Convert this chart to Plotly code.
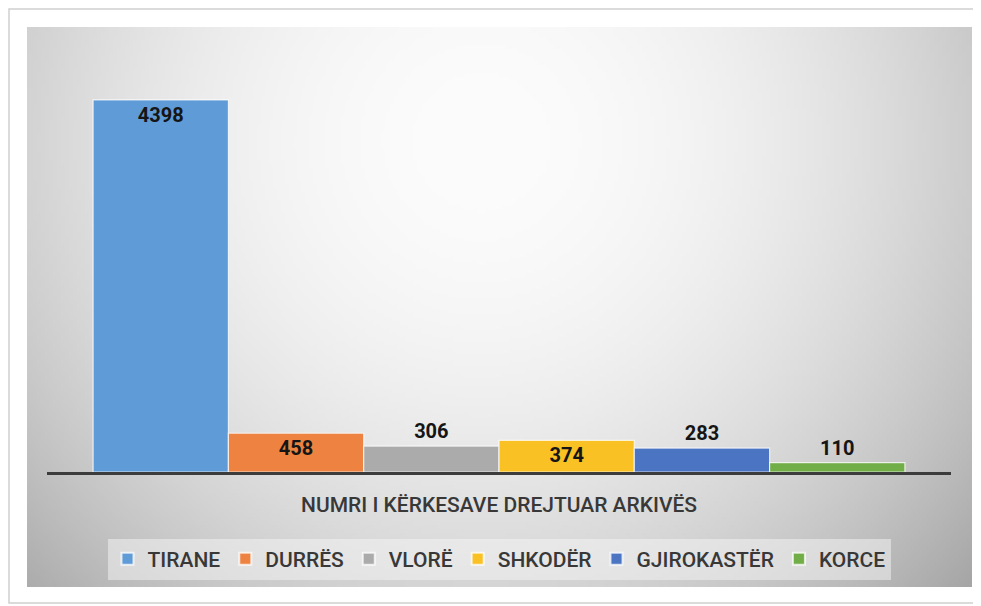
import base64
import struct
import zlib

import numpy as np
import plotly.graph_objects as go

# ---------------- data ----------------
category = ["NUMRI I KËRKESAVE DREJTUAR ARKIVËS"]
cities = ["TIRANE", "DURRËS", "VLORË", "SHKODËR", "GJIROKASTËR", "KORCE"]
requests = [4398, 458, 306, 374, 283, 110]
colors = ["#5F9BD6", "#EE8240", "#ABABAB", "#F9C124", "#4B74C2", "#71AE48"]
label_pos = ["inside", "inside", "outside", "inside", "outside", "outside"]

# page offset of the figure inside the browser window
OX, OY = 9, 8
W, H = 981 - OX, 606 - OY
L, R, T, B = 39, 29, 41, 134
PW, PH = W - L - R, H - T - B


def px_x(x):
    """reference-window pixel x -> paper x"""
    return (x - OX - L) / PW


def px_y(y):
    """reference-window pixel y -> paper y"""
    return (H - B - (y - OY)) / PH


# ---------------- radial gradient background (style only) ----------------
def gradient_uri(w, h, cx, cy, r):
    ys, xs = np.mgrid[0:h, 0:w]
    d = np.sqrt(((xs - cx) / r) ** 2 + ((ys - cy) / r) ** 2)
    d = np.clip(d, 0, 1.2)
    c = 252 - 62 * d ** 2
    arr = np.clip(c, 0, 255).astype(np.uint8)
    img = np.stack([arr, arr, arr], axis=-1)
    raw = b"".join(b"\x00" + row.tobytes() for row in img)

    def chunk(tag, data):
        out = struct.pack(">I", len(data)) + tag + data
        return out + struct.pack(">I", zlib.crc32(tag + data) & 0xFFFFFFFF)

    png = b"\x89PNG\r\n\x1a\n"
    png += chunk(b"IHDR", struct.pack(">IIBBBBB", w, h, 8, 2, 0, 0, 0))
    png += chunk(b"IDAT", zlib.compress(raw, 9))
    png += chunk(b"IEND", b"")
    return "data:image/png;base64," + base64.b64encode(png).decode()


gx0, gy0, gx1, gy1 = 28, 27, 973, 587
sc = 4
gw, gh = (gx1 - gx0) // sc, (gy1 - gy0) // sc
bg_uri = gradient_uri(gw, gh, (480 - gx0) / sc, (140 - gy0) / sc, 560 / sc)

FONT = "Roboto, Arial, sans-serif"

fig = go.Figure()
for name, val, col, pos in zip(cities, requests, colors, label_pos):
    fig.add_trace(
        go.Bar(
            x=category,
            y=[val],
            name=name,
            marker=dict(color=col, line=dict(color="rgba(255,255,255,0.75)", width=1.2)),
            text=[str(val)],
            textposition=pos,
            insidetextanchor="end",
            textfont=dict(family=FONT, size=20, color="#151515", weight="bold"),
            cliponaxis=False,
            constraintext="none",
        )
    )

fig.update_layout(
    width=W,
    height=H,
    margin=dict(l=L, r=R, t=T, b=B),
    paper_bgcolor="white",
    plot_bgcolor="rgba(0,0,0,0)",
    barmode="group",
    bargap=0.102,
    bargroupgap=0,
    uniformtext=dict(minsize=20, mode="show"),
    font=dict(family=FONT, color="#3A3A3A"),
    showlegend=True,
    legend=dict(
        orientation="h",
        x=0.5,
        xanchor="center",
        y=px_y(559),
        yanchor="middle",
        bgcolor="rgba(246,246,246,0.5)",
        font=dict(size=21, color="#383838", weight=500),
        itemsizing="constant",
        traceorder="normal",
    ),
    xaxis=dict(
        showticklabels=False,
        showline=True,
        linecolor="#3C3C3C",
        linewidth=3,
        ticks="",
        showgrid=False,
        zeroline=False,
    ),
    yaxis=dict(
        range=[0, 5000],
        visible=False,
        showgrid=False,
        zeroline=False,
    ),
    images=[
        dict(
            source=bg_uri,
            xref="paper",
            yref="paper",
            x=px_x(gx0),
            y=px_y(gy0),
            sizex=(gx1 - gx0) / PW,
            sizey=(gy1 - gy0) / PH,
            xanchor="left",
            yanchor="top",
            sizing="stretch",
            layer="below",
        )
    ],
    shapes=[
        dict(
            type="rect",
            xref="paper",
            yref="paper",
            x0=px_x(10),
            x1=px_x(979),
            y0=px_y(603),
            y1=px_y(9),
            line=dict(color="#D0D0D0", width=1.5),
            fillcolor="rgba(0,0,0,0)",
            layer="below",
        )
    ],
    annotations=[
        dict(
            text=category[0],
            xref="paper",
            yref="paper",
            x=0.5,
            y=px_y(505),
            xanchor="center",
            yanchor="middle",
            showarrow=False,
            font=dict(size=21, color="#383838", weight=500),
        )
    ],
)

fig.write_html("out.html")
